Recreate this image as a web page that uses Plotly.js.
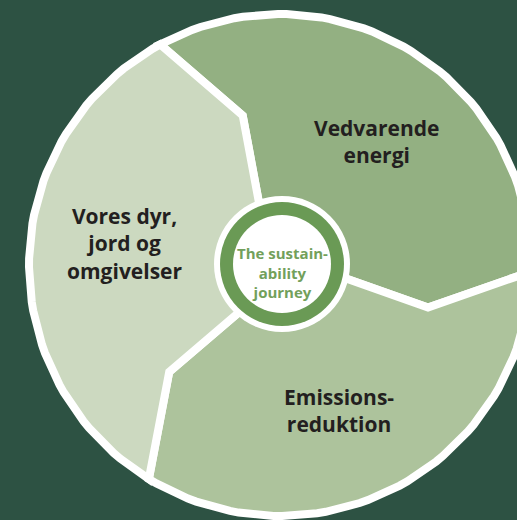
<!DOCTYPE html>
<html>
<head>
<meta charset="utf-8">
<script src="https://cdn.plot.ly/plotly-3.0.1.min.js"></script>
<style>html,body{margin:0;padding:0;background:#2d5243;}#chart{width:517px;height:520px;}</style>
</head>
<body>
<div id="chart"></div>
<script>
// ---- data ----
const categories = ["Vedvarende energi", "Emissionsreduktion", "Vores dyr, jord og omgivelser"];
const shares = [1, 1, 1];
const segmentColors = ["#93b082", "#adc39c", "#ccd9c0"];
const labelLines = [["Vedvarende", "energi"], ["Emissions-", "reduktion"], ["Vores dyr,", "jord og", "omgivelser"]];
const centerLines = ["The sustain-", "ability", "journey"];

// ---- geometry (styling) ----
const startAngle = 118.5;   // degrees, first boundary
const R = 251;              // outer radius of segments (centre of white outline)
const rIn = 30, rKink = 154, kinkShift = -14.5;
const rad = d => d * Math.PI / 180;
const pt = (r, a) => [r * Math.cos(rad(a)), r * Math.sin(rad(a))];

function boundary(b) { return [pt(rIn, b), pt(rKink, b + kinkShift), pt(R, b)]; }

const total = shares.reduce((s, v) => s + v, 0);
const traces = [];
const annotations = [];
let a0 = startAngle;
shares.forEach((v, i) => {
  const a1 = a0 - v / total * 360;
  const pts = [];
  boundary(a0).forEach(p => pts.push(p));
  const n = 60;
  for (let k = 1; k < n; k++) pts.push(pt(R, a0 + (a1 - a0) * k / n));
  boundary(a1).reverse().forEach(p => pts.push(p));
  pts.push(pts[0]);
  traces.push({
    type: "scatter", mode: "lines", fill: "toself",
    x: pts.map(p => p[0]), y: pts.map(p => p[1]),
    fillcolor: segmentColors[i],
    line: { color: "#ffffff", width: 8 },
    name: categories[i], hoverinfo: "skip"
  });
  // label
  const mid = (a0 + a1) / 2 - 6.5;
  const c = pt(157, mid);
  annotations.push({
    x: c[0], y: c[1], xref: "x", yref: "y",
    text: labelLines[i].join("<br>"), showarrow: false,
    xanchor: "center", yanchor: "middle", align: "center",
    font: { family: "Open Sans", size: 21, color: "#231f20", weight: 700 }
  });
  a0 = a1;
});

// centre
const cx = 2, cy = 1;
annotations.push({
  x: cx, y: cy - 8, xref: "x", yref: "y", text: centerLines.join("<br>"), showarrow: false,
  xanchor: "center", yanchor: "middle", align: "center",
  font: { family: "Open Sans", size: 15, color: "#72a05b", weight: 700 }
});

const circ = (r, col) => ({
  type: "circle", xref: "x", yref: "y", layer: "above",
  x0: cx - r, x1: cx + r, y0: cy - r, y1: cy + r,
  fillcolor: col, line: { width: 0 }
});

const layout = {
  width: 517, height: 520,
  margin: { l: 0, r: 0, t: 0, b: 0, pad: 0 },
  paper_bgcolor: "#2d5243", plot_bgcolor: "#2d5243",
  showlegend: false,
  xaxis: { range: [-280, 237], visible: false, fixedrange: true },
  yaxis: { range: [-255, 265], visible: false, fixedrange: true },
  shapes: [circ(68, "#ffffff"), circ(62, "#6a9a55"), circ(49, "#ffffff")],
  annotations: annotations
};

Plotly.newPlot("chart", traces, layout, { displayModeBar: false, staticPlot: true });
</script>
</body>
</html>
